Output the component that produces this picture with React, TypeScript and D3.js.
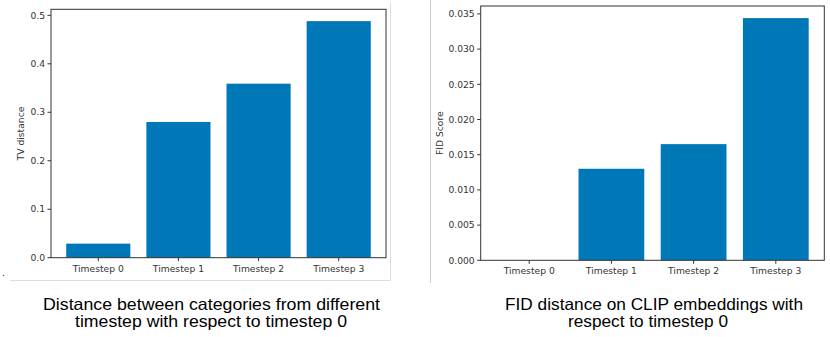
import React from "react";
import * as d3 from "d3";

const categories = ["Timestep 0", "Timestep 1", "Timestep 2", "Timestep 3"];
const tvValues = [0.029, 0.28, 0.359, 0.488];
const fidValues = [0, 0.013, 0.0165, 0.0344];
const tvTicks = [0, 0.1, 0.2, 0.3, 0.4, 0.5];
const fidTicks = [0, 0.005, 0.01, 0.015, 0.02, 0.025, 0.03, 0.035];

const BAR = "#0077b6";
const AXIS = "#333";

type PanelProps = {
  left: number;
  right: number;
  top: number;
  bottom: number;
  values: number[];
  ticks: number[];
  fmt: (v: number) => string;
  yLabel: string;
  yLabelX: number;
};

function Panel({ left, right, top, bottom, values, ticks, fmt, yLabel, yLabelX }: PanelProps) {
  // matplotlib style: bars of width 0.8 at integer positions, 5% margins
  const x = d3.scaleLinear().domain([-0.59, 3.59]).range([left, right]);
  const maxV = d3.max(values) as number;
  const y = d3.scaleLinear().domain([0, maxV * 1.05]).range([bottom, top]);
  const fs = 9.2;
  return (
    <g fontFamily="DejaVu Sans" fontSize={fs} fill={AXIS}>
      {values.map((v, i) => (
        <rect
          key={i}
          x={x(i - 0.4)}
          y={y(v)}
          width={x(i + 0.4) - x(i - 0.4)}
          height={bottom - y(v)}
          fill={BAR}
        />
      ))}
      <rect x={left} y={top} width={right - left} height={bottom - top} fill="none" stroke={AXIS} strokeWidth={1} />
      {ticks.map((t) => (
        <g key={t}>
          <line x1={left - 3.5} x2={left} y1={y(t)} y2={y(t)} stroke={AXIS} />
          <text x={left - 6} y={y(t)} dy="0.35em" textAnchor="end">
            {fmt(t)}
          </text>
        </g>
      ))}
      {categories.map((c, i) => (
        <g key={c}>
          <line x1={x(i)} x2={x(i)} y1={bottom} y2={bottom + 3.5} stroke={AXIS} />
          <text x={x(i)} y={bottom + 14} textAnchor="middle">
            {c}
          </text>
        </g>
      ))}
      <text
        transform={`translate(${yLabelX},${(top + bottom) / 2}) rotate(-90)`}
        textAnchor="middle"
        dy="0.35em"
      >
        {yLabel}
      </text>
    </g>
  );
}

// caption lines: text, centre x, baseline y, rendered width
const captions: [string, number, number, number][] = [
  ["Distance between categories from different", 211.5, 310, 337],
  ["timestep with respect to timestep 0", 211, 327, 272],
  ["FID distance on CLIP embeddings with", 654, 310, 298],
  ["respect to timestep 0", 648, 327, 160],
];

export default function App() {
  return (
    <svg width={830} height={337} style={{ position: "absolute", left: 0, top: 0, background: "#fff" }}>
      <rect width={830} height={337} fill="#fff" />
      {/* frame lines of the pasted figures */}
      <line x1={390.5} x2={390.5} y1={2} y2={280} stroke="#ddd" />
      <line x1={10} x2={390.5} y1={280.5} y2={280.5} stroke="#ddd" />
      <line x1={430.5} x2={430.5} y1={0} y2={283} stroke="#ccc" />
      <text x={2} y={276} fontFamily="DejaVu Sans" fontSize={9} fill="#000">.</text>

      <Panel
        left={51}
        right={386}
        top={9.3}
        bottom={257.7}
        values={tvValues}
        ticks={tvTicks}
        fmt={d3.format(".1f")}
        yLabel="TV distance"
        yLabelX={21}
      />
      <Panel
        left={480.7}
        right={824.3}
        top={6}
        bottom={260.3}
        values={fidValues}
        ticks={fidTicks}
        fmt={d3.format(".3f")}
        yLabel="FID Score"
        yLabelX={440}
      />

      <g fontFamily="Liberation Sans" fontSize={16.5} fill="#000">
        {captions.map(([t, cx, by, w]) => (
          <text key={t} x={cx - w / 2} y={by} textLength={w} lengthAdjust="spacingAndGlyphs">
            {t}
          </text>
        ))}
      </g>
    </svg>
  );
}
